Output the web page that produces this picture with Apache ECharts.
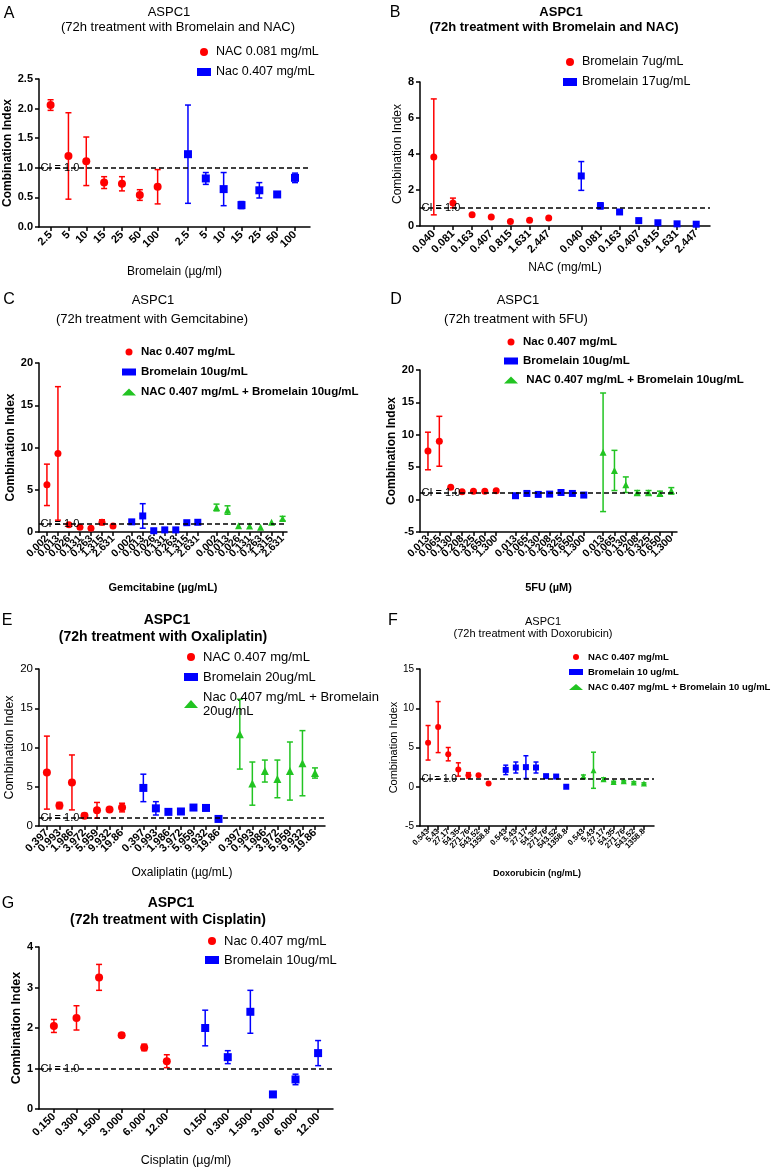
<!DOCTYPE html>
<html>
<head>
<meta charset="UTF-8" />
<title>ASPC1 combination index</title>
<script src="https://cdn.jsdelivr.net/npm/echarts@6/dist/echarts.min.js"></script>
<style>
    html, body { margin: 0; padding: 0; background: #fff; }
    #main { width: 774px; height: 1171px; }
</style>
</head>
<body>
<div id="main"></div>
<script>
var RED = '#ff0000', BLUE = '#0000ff', GREEN = '#22c422';
var FONT = '"Liberation Sans", Arial, sans-serif';

/* ---- data ---- */
// A: Bromelain and NAC, x = bromelain
var aTicks = ['2.5', '5', '10', '15', '25', '50', '100'];
var aNac081 = [2.06, 1.20, 1.11, 0.75, 0.73, 0.54, 0.68];
var aNac081Sd = [0.09, 0.73, 0.41, 0.10, 0.12, 0.09, 0.29];
var aNac407 = [1.23, 0.82, 0.64, 0.37, 0.62, 0.55, 0.83];
var aNac407Sd = [0.83, 0.10, 0.28, 0.06, 0.13, 0.04, 0.08];

// B: Bromelain and NAC, x = NAC
var bTicks = ['0.040', '0.081', '0.163', '0.407', '0.815', '1.631', '2.447'];
var bBro7 = [3.84, 1.28, 0.62, 0.50, 0.25, 0.32, 0.45];
var bBro7Sd = [3.22, 0.27, 0, 0, 0, 0, 0];
var bBro17 = [2.78, 1.12, 0.78, 0.30, 0.18, 0.12, 0.10];
var bBro17Sd = [0.80, 0.17, 0.08, 0, 0, 0, 0];

// C: Gemcitabine
var cTicks = ['0.002', '0.013', '0.026', '0.131', '0.263', '1.315', '2.631'];
var cNac = [5.58, 9.3, 0.85, 0.55, 0.45, 1.15, 0.7];
var cNacSd = [2.45, 7.9, 0, 0, 0, 0.3, 0];
var cBro = [1.2, 1.9, 0.15, 0.25, 0.25, 1.1, 1.15];
var cBroSd = [0, 1.45, 0, 0, 0, 0, 0];
var cBoth = [2.9, 2.6, 0.75, 0.7, 0.55, 1.15, 1.6];
var cBothSd = [0.4, 0.5, 0, 0, 0, 0, 0.25];

// D: 5FU
var dTicks = ['0.013', '0.065', '0.130', '0.208', '0.325', '0.650', '1.300'];
var dNac = [7.5, 9.0, 1.9, 1.2, 1.3, 1.3, 1.35];
var dNacSd = [2.9, 3.85, 0, 0, 0, 0, 0];
var dBro = [0.6, 0.95, 0.8, 0.85, 1.1, 0.95, 0.7];
var dBroSd = [0, 0, 0, 0, 0, 0, 0];
var dBoth = [7.3, 4.5, 2.3, 1.05, 1.05, 0.95, 1.35];
var dBothSd = [9.15, 3.1, 1.2, 0.35, 0.35, 0.35, 0.5];

// E: Oxaliplatin
var eTicks = ['0.397', '0.993', '1.986', '3.972', '5.959', '9.932', '19.86'];
var eNac = [6.8, 2.6, 5.55, 1.3, 2.0, 2.1, 2.35];
var eNacSd = [4.65, 0.4, 3.5, 0.3, 1.0, 0, 0.55];
var eBro = [4.85, 2.25, 1.8, 1.85, 2.35, 2.3, 0.9];
var eBroSd = [1.75, 0.85, 0, 0.25, 0, 0, 0];
var eBoth = [11.7, 5.4, 7.0, 6.0, 7.0, 8.0, 6.75];
var eBothSd = [4.45, 2.75, 1.4, 2.4, 3.7, 4.15, 0.65];

// F: Doxorubicin
var fTicks = ['0.543', '5.43', '27.17', '54.35', '271.76', '543.52', '1358.8'];
var fNac = [5.6, 7.6, 4.15, 2.2, 1.45, 1.45, 0.4];
var fNacSd = [2.2, 3.25, 0.85, 0.85, 0.35, 0, 0];
var fBro = [2.15, 2.45, 2.5, 2.45, 1.35, 1.3, 0.0];
var fBroSd = [0.6, 0.7, 1.45, 0.7, 0, 0, 0];
var fBoth = [1.3, 2.1, 0.95, 0.6, 0.7, 0.55, 0.4];
var fBothSd = [0.2, 2.3, 0.2, 0.1, 0.1, 0.1, 0.1];

// G: Cisplatin
var gTicks = ['0.150', '0.300', '1.500', '3.000', '6.000', '12.00'];
var gNac = [2.05, 2.25, 3.25, 1.82, 1.52, 1.18];
var gNacSd = [0.16, 0.30, 0.32, 0.05, 0.08, 0.16];
var gBro = [2.0, 1.28, 2.4, 0.36, 0.73, 1.38];
var gBroSd = [0.44, 0.16, 0.53, 0.05, 0.13, 0.31];

/* ---- building ---- */
var GAP = 1.7;   // distance between last point of a group and first of the next

var option = {
    backgroundColor: '#fff',
    animation: false,
    graphic: [],
    legend: [],
    grid: [],
    xAxis: [],
    yAxis: [],
    series: []
};

function errBars(color, cap) {
    return function (params, api) {
        var x = api.value(0), y = api.value(1), e = api.value(2);
        var top = api.coord([x, y + e]), bot = api.coord([x, y - e]);
        var st = { stroke: color, lineWidth: 1.5 };
        return {
            type: 'group',
            children: [
                { type: 'line', shape: { x1: top[0], y1: top[1], x2: bot[0], y2: bot[1] }, style: st },
                { type: 'line', shape: { x1: top[0] - cap, y1: top[1], x2: top[0] + cap, y2: top[1] }, style: st },
                { type: 'line', shape: { x1: bot[0] - cap, y1: bot[1], x2: bot[0] + cap, y2: bot[1] }, style: st }
            ]
        };
    };
}

// rotated tick labels drawn at each point's x (axis label layout hides crowded ones)
function tickLabels(ticks, margin, font) {
    return function (params, api) {
        var c = api.coord([api.value(0), api.value(1)]);
        return {
            type: 'text', x: c[0], y: c[1] + margin, rotation: Math.PI / 4,
            style: {
                text: ticks[api.value(2)], font: font, fill: '#000',
                textAlign: 'right', textVerticalAlign: 'middle'
            }
        };
    };
}

function text(x, y, s, font) {
    option.graphic.push({
        type: 'text', x: x, y: y, silent: true,
        style: { text: s, font: font, fill: '#000', textAlign: 'center', textVerticalAlign: 'middle' }
    });
}

function addPanel(p) {
    var k = option.grid.length;
    var n = p.ticks.length;
    var step = n - 1 + GAP;
    var pos = [], labData = [];
    p.groups.forEach(function (g, gi) {
        for (var i = 0; i < n; i++) {
            pos.push(gi * step + i);
            labData.push([gi * step + i, p.y[0], i]);
        }
    });
    var xmin = -p.pad[0], xmax = pos[pos.length - 1] + p.pad[1];

    text(p.letter[0], p.letter[1], p.letter[2], '16px ' + FONT);
    text(p.t1[0], p.t1[1], 'ASPC1', p.tFont);
    text(p.t2[0], p.t2[1], p.t2[2], p.tFont);

    option.grid.push({ left: p.box[0], top: p.box[1], width: p.box[2], height: p.box[3] });

    var axisLine = { show: true, onZero: false, lineStyle: { color: '#000', width: 1.5 } };
    var axisTick = { show: true, length: 4, lineStyle: { color: '#000', width: 1.5 } };

    option.xAxis.push({
        type: 'value', gridIndex: k, min: xmin, max: xmax,
        name: p.xName, nameLocation: 'middle', nameGap: p.xNameGap,
        nameTextStyle: { color: '#000', fontFamily: FONT, fontSize: p.xNameSize, fontWeight: p.xNameWeight },
        axisLine: axisLine,
        axisTick: Object.assign({ customValues: pos }, axisTick),
        splitLine: { show: false },
        axisLabel: { show: false }
    });
    option.yAxis.push({
        type: 'value', gridIndex: k, min: p.y[0], max: p.y[1], interval: p.y[2],
        name: 'Combination Index', nameLocation: 'middle', nameGap: p.yNameGap,
        nameTextStyle: { color: '#000', fontFamily: FONT, fontSize: p.yNameSize, fontWeight: p.yNameWeight },
        axisLine: axisLine, axisTick: axisTick,
        splitLine: { show: false },
        axisLabel: {
            margin: 6, color: '#000', fontFamily: FONT, fontSize: p.yTickSize, fontWeight: p.yTickWeight,
            formatter: function (v) { return p.yDec ? v.toFixed(p.yDec) : String(v); }
        }
    });

    option.series.push({
        type: 'custom', xAxisIndex: k, yAxisIndex: k, silent: true, clip: false,
        encode: { x: 0, y: 1 },
        renderItem: tickLabels(p.ticks, p.tickMargin,
            (p.tickWeight === 'bold' ? 'bold ' : '') + p.tickSize + 'px ' + FONT),
        data: labData
    });

    var legendData = [];
    p.groups.forEach(function (g, gi) {
        legendData.push({ name: g.name, icon: g.symbol });
        var pts = g.values.map(function (v, i) { return [gi * step + i, v]; });
        var errs = [];
        g.values.forEach(function (v, i) {
            if (g.sd[i] > 0) errs.push([gi * step + i, v, g.sd[i]]);
        });
        var s = {
            type: 'scatter', name: g.name, xAxisIndex: k, yAxisIndex: k,
            symbol: g.symbol, symbolSize: p.sym, itemStyle: { color: g.color, opacity: 1 },
            data: pts, z: 4
        };
        if (gi === 0) {
            s.markLine = {
                silent: true, symbol: 'none',
                lineStyle: { color: '#000', width: 1.5, type: [5, 3] },
                label: { show: false },
                data: [{ yAxis: 1 }]
            };
            s.markPoint = {
                silent: true, symbol: 'circle', symbolSize: 1,
                itemStyle: { color: 'rgba(0,0,0,0)' },
                label: {
                    show: true, position: 'right', distance: 1, formatter: 'CI = 1.0',
                    color: '#000', fontFamily: FONT, fontSize: p.ciSize
                },
                data: [{ coord: [xmin, 1] }]
            };
        }
        option.series.push(s);
        option.series.push({
            type: 'custom', xAxisIndex: k, yAxisIndex: k, z: 3,
            renderItem: errBars(g.color, p.cap), data: errs
        });
    });

    option.legend.push({
        data: legendData, orient: 'vertical', left: p.legend[0], top: p.legend[1],
        itemGap: p.legend[2], itemWidth: 14, itemHeight: p.legendIcon, padding: 0,
        selectedMode: false,
        textStyle: {
            color: '#000', fontFamily: FONT, fontSize: p.legendSize,
            fontWeight: p.legendWeight, lineHeight: p.legendLine
        }
    });
}

addPanel({
    letter: [9, 14, 'A'],
    t1: [169, 12], t2: [178, 27, '(72h treatment with Bromelain and NAC)'], tFont: '13px ' + FONT,
    box: [39, 79, 271, 148], pad: [0.65, 0.84], y: [0, 2.5, 0.5], yDec: 1,
    ticks: aTicks, sym: 8, cap: 3,
    groups: [
        { name: 'NAC 0.081 mg/mL', values: aNac081, sd: aNac081Sd, color: RED, symbol: 'circle' },
        { name: 'Nac 0.407 mg/mL ', values: aNac407, sd: aNac407Sd, color: BLUE, symbol: 'rect' }
    ],
    xName: 'Bromelain (µg/ml)', xNameGap: 39, xNameSize: 12, xNameWeight: 'normal',
    tickSize: 11, tickWeight: 'bold', tickMargin: 6,
    yNameGap: 25, yNameSize: 12, yNameWeight: 'bold', yTickSize: 11, yTickWeight: 'bold',
    ciSize: 11,
    legend: [197, 45, 6], legendIcon: 8, legendSize: 12.5, legendWeight: 'normal', legendLine: 14
});

addPanel({
    letter: [395, 13, 'B'],
    t1: [561, 12], t2: [554, 27, '(72h treatment with Bromelain and NAC)'], tFont: 'bold 13px ' + FONT,
    box: [420, 82, 290, 144], pad: [0.72, 0.72], y: [0, 8, 2], yDec: 0,
    ticks: bTicks, sym: 7, cap: 3,
    groups: [
        { name: 'Bromelain 7ug/mL', values: bBro7, sd: bBro7Sd, color: RED, symbol: 'circle' },
        { name: 'Bromelain 17ug/mL', values: bBro17, sd: bBro17Sd, color: BLUE, symbol: 'rect' }
    ],
    xName: 'NAC (mg/mL)', xNameGap: 36, xNameSize: 12, xNameWeight: 'normal',
    tickSize: 11, tickWeight: 'bold', tickMargin: 6,
    yNameGap: 15, yNameSize: 12, yNameWeight: 'normal', yTickSize: 11, yTickWeight: 'bold',
    ciSize: 11,
    legend: [563, 55, 6], legendIcon: 8, legendSize: 12.5, legendWeight: 'normal', legendLine: 14
});

addPanel({
    letter: [9, 300, 'C'],
    t1: [153, 300], t2: [152, 319, '(72h treatment with Gemcitabine)'], tFont: '13px ' + FONT,
    box: [39, 363, 248, 169], pad: [0.72, 0.4], y: [0, 20, 5], yDec: 0,
    ticks: cTicks, sym: 7, cap: 3,
    groups: [
        { name: 'Nac 0.407 mg/mL', values: cNac, sd: cNacSd, color: RED, symbol: 'circle' },
        { name: 'Bromelain 10ug/mL', values: cBro, sd: cBroSd, color: BLUE, symbol: 'rect' },
        { name: 'NAC 0.407 mg/mL + Bromelain 10ug/mL', values: cBoth, sd: cBothSd, color: GREEN, symbol: 'triangle' }
    ],
    xName: 'Gemcitabine (µg/mL)', xNameGap: 50, xNameSize: 11, xNameWeight: 'bold',
    tickSize: 10.5, tickWeight: 'bold', tickMargin: 5,
    yNameGap: 19, yNameSize: 12, yNameWeight: 'bold', yTickSize: 11, yTickWeight: 'bold',
    ciSize: 11,
    legend: [122, 345, 6], legendIcon: 7, legendSize: 11.5, legendWeight: 'bold', legendLine: 14
});

addPanel({
    letter: [396, 300, 'D'],
    t1: [518, 300], t2: [516, 319, '(72h treatment with 5FU)'], tFont: '13px ' + FONT,
    box: [420, 370, 257, 162], pad: [0.7, 0.5], y: [-5, 20, 5], yDec: 0,
    ticks: dTicks, sym: 7, cap: 3,
    groups: [
        { name: 'Nac 0.407 mg/mL', values: dNac, sd: dNacSd, color: RED, symbol: 'circle' },
        { name: 'Bromelain 10ug/mL', values: dBro, sd: dBroSd, color: BLUE, symbol: 'rect' },
        { name: ' NAC 0.407 mg/mL + Bromelain 10ug/mL', values: dBoth, sd: dBothSd, color: GREEN, symbol: 'triangle' }
    ],
    xName: '5FU (µM)', xNameGap: 50, xNameSize: 11, xNameWeight: 'bold',
    tickSize: 10.5, tickWeight: 'bold', tickMargin: 5,
    yNameGap: 17, yNameSize: 12, yNameWeight: 'bold', yTickSize: 11, yTickWeight: 'bold',
    ciSize: 11,
    legend: [504, 335, 5], legendIcon: 7, legendSize: 11.5, legendWeight: 'bold', legendLine: 14
});

addPanel({
    letter: [7, 621, 'E'],
    t1: [167, 620], t2: [163, 637, '(72h treatment with Oxaliplatin)'], tFont: 'bold 14px ' + FONT,
    box: [39, 669, 286, 157], pad: [0.63, 0.8], y: [0, 20, 5], yDec: 0,
    ticks: eTicks, sym: 8, cap: 3,
    groups: [
        { name: 'NAC 0.407 mg/mL', values: eNac, sd: eNacSd, color: RED, symbol: 'circle' },
        { name: 'Bromelain 20ug/mL', values: eBro, sd: eBroSd, color: BLUE, symbol: 'rect' },
        { name: 'Nac 0.407 mg/mL + Bromelain\n20ug/mL', values: eBoth, sd: eBothSd, color: GREEN, symbol: 'triangle' }
    ],
    xName: 'Oxaliplatin (µg/mL)', xNameGap: 41, xNameSize: 12, xNameWeight: 'normal',
    tickSize: 11, tickWeight: 'bold', tickMargin: 5,
    yNameGap: 23, yNameSize: 12.5, yNameWeight: 'normal', yTickSize: 11.5, yTickWeight: 'normal',
    ciSize: 11,
    legend: [184, 650, 6], legendIcon: 8, legendSize: 13, legendWeight: 'normal', legendLine: 14
});

addPanel({
    letter: [393, 621, 'F'],
    t1: [543, 622], t2: [533, 634, '(72h treatment with Doxorubicin)'], tFont: '11px ' + FONT,
    box: [420, 669, 234, 157], pad: [0.8, 1.0], y: [-5, 15, 5], yDec: 0,
    ticks: fTicks, sym: 6, cap: 2.5,
    groups: [
        { name: 'NAC 0.407 mg/mL ', values: fNac, sd: fNacSd, color: RED, symbol: 'circle' },
        { name: 'Bromelain 10 ug/mL', values: fBro, sd: fBroSd, color: BLUE, symbol: 'rect' },
        { name: 'NAC 0.407 mg/mL + Bromelain 10 ug/mL', values: fBoth, sd: fBothSd, color: GREEN, symbol: 'triangle' }
    ],
    xName: 'Doxorubicin (ng/mL)', xNameGap: 43, xNameSize: 9, xNameWeight: 'bold',
    tickSize: 8, tickWeight: 'bold', tickMargin: 4,
    yNameGap: 15, yNameSize: 11, yNameWeight: 'normal', yTickSize: 10, yTickWeight: 'normal',
    ciSize: 10,
    legend: [569, 651, 3], legendIcon: 6, legendSize: 9.5, legendWeight: 'bold', legendLine: 12
});

addPanel({
    letter: [8, 904, 'G'],
    t1: [171, 903], t2: [168, 920, '(72h treatment with Cisplatin)'], tFont: 'bold 14px ' + FONT,
    box: [39, 947, 294, 162], pad: [0.66, 0.66], y: [0, 4, 1], yDec: 0,
    ticks: gTicks, sym: 8, cap: 3,
    groups: [
        { name: 'Nac 0.407 mg/mL  ', values: gNac, sd: gNacSd, color: RED, symbol: 'circle' },
        { name: 'Bromelain 10ug/mL ', values: gBro, sd: gBroSd, color: BLUE, symbol: 'rect' }
    ],
    xName: 'Cisplatin (µg/ml)', xNameGap: 45, xNameSize: 12.5, xNameWeight: 'normal',
    tickSize: 11, tickWeight: 'bold', tickMargin: 6,
    yNameGap: 16, yNameSize: 12.5, yNameWeight: 'bold', yTickSize: 11, yTickWeight: 'bold',
    ciSize: 11,
    legend: [205, 934, 5], legendIcon: 8, legendSize: 13, legendWeight: 'normal', legendLine: 14
});

var myChart = echarts.init(document.getElementById('main'));
myChart.setOption(option);
</script>
</body>
</html>
